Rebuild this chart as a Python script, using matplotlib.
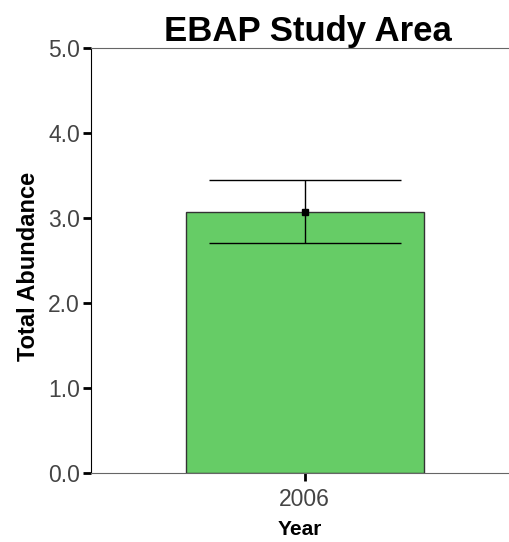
import matplotlib
matplotlib.use("Agg")
import matplotlib.pyplot as plt

plt.rcParams['font.family'] = ['Liberation Sans', 'DejaVu Sans']

years = ['2006']
abundance = [3.07]
err_low = [2.70]
err_high = [3.45]
yticks = [0.0, 1.0, 2.0, 3.0, 4.0, 5.0]

fig = plt.figure(figsize=(5.09, 5.42), dpi=100)
ax = fig.add_axes([91 / 509, 69 / 542, 1 - 91 / 509, 425 / 542])

x = list(range(len(years)))
ax.bar(x, abundance, width=1.0, color='#66cc66', edgecolor='#333333',
       linewidth=1.0, zorder=2)
lower = [a - lo for a, lo in zip(abundance, err_low)]
upper = [hi - a for a, hi in zip(abundance, err_high)]
ax.errorbar(x, abundance, yerr=[lower, upper], fmt='s', color='black',
            markersize=4, capsize=69, elinewidth=1.0, capthick=1.0, zorder=3)

ax.set_xlim(-0.9, 0.86)
ax.set_ylim(0, 5.0)
ax.set_yticks(yticks)
ax.set_yticklabels([f'{v:.1f}' for v in yticks])
ax.set_xticks(x)
ax.set_xticklabels(years)

for side in ['top', 'bottom']:
    ax.spines[side].set_color('#666666')
ax.spines['left'].set_color('black')
ax.spines['right'].set_visible(False)
ax.tick_params(axis='both', length=6, width=2, color='black',
               labelsize=16.5, labelcolor='#444444')
ax.tick_params(axis='y', pad=2)
ax.tick_params(axis='x', pad=5)

ax.set_title('EBAP Study Area', fontsize=25, fontweight='bold', pad=4, x=0.52)
ax.set_ylabel('Total Abundance', fontsize=17, fontweight='bold', labelpad=6)
ax.yaxis.label.set_y(0.487)
ax.set_xlabel('Year', fontsize=15, fontweight='bold', labelpad=6)

fig.savefig('out.png', dpi=100)
